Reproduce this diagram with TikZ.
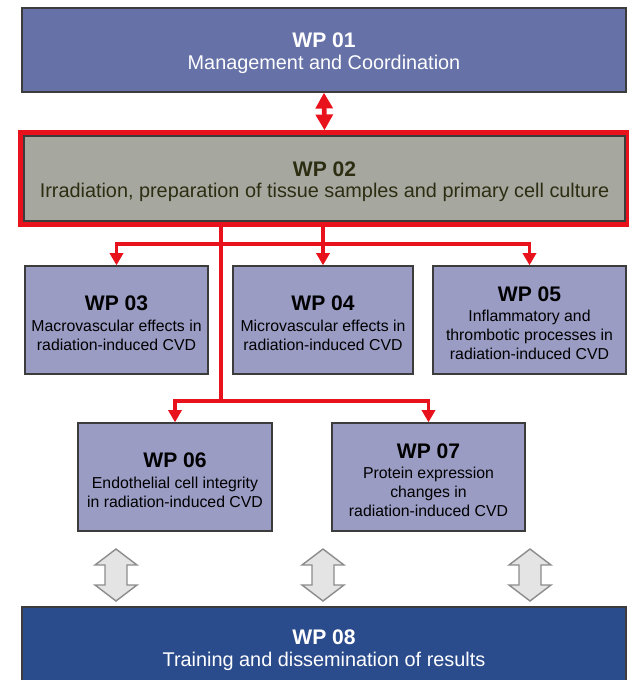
\documentclass[tikz,border=0pt]{standalone}
\usepackage{fontspec}
\setmainfont{Liberation Sans}
\usepackage{tikz}
\usetikzlibrary{arrows.meta}

\definecolor{wpslate}{HTML}{6571A7}
\definecolor{wpgrey}{HTML}{A6A8A0}
\definecolor{wpolive}{HTML}{2D2D12}
\definecolor{wplilac}{HTML}{9A9CC4}
\definecolor{wpnavy}{HTML}{2B4C8C}
\definecolor{wpred}{HTML}{E8121C}
\definecolor{wpedge}{HTML}{3C3C3C}
\definecolor{wpfog}{HTML}{E4E4E4}
\definecolor{wpsmoke}{HTML}{8C8C8C}

\newcommand{\wphead}[1]{{\fontsize{12}{14}\selectfont\bfseries\rule{0pt}{12pt}#1}}

\begin{document}
\begin{tikzpicture}[x=0.02cm,y=-0.02cm,
    wpbox/.style={draw=wpedge,line width=0.8pt,align=center,inner sep=0pt},
    wpwide/.style={wpbox,minimum width=12.08cm,minimum height=1.68cm,
        font=\fontsize{11.3}{12.5}\selectfont},
    wpsmall/.style={wpbox,fill=wplilac,minimum height=2.16cm,
        font=\fontsize{9}{10.8}\selectfont},
    redline/.style={wpred,line width=2pt},
    redarrow/.style={redline,-{Triangle[width=7.5pt,length=7pt]}},
    greyarrow/.style={fill=wpfog,draw=wpsmoke,line width=0.8pt,line join=miter}]

\useasboundingbox (0,0) rectangle (629,680);

% top row
\node[wpwide,fill=wpslate,text=white] (wp01) at (324,50)
    {\wphead{WP 01}\\Management and Coordination};

\node[wpwide,fill=wpgrey,text=wpolive,minimum width=12.02cm,minimum height=1.70cm] (wp02) at (324.5,178.5)
    {\wphead{WP 02}\\Irradiation, preparation of tissue samples and primary cell culture};
\draw[wpred,line width=2.8pt] ([shift={(-2.5,-2.5)}]wp02.north west) rectangle ([shift={(2.5,2.5)}]wp02.south east);

% middle rows
\node[wpsmall,minimum width=3.66cm] (wp03) at (116.5,320)
    {\wphead{WP 03}\\[1pt]Macrovascular effects in\\radiation-induced CVD};
\node[wpsmall,minimum width=3.60cm] (wp04) at (323,320)
    {\wphead{WP 04}\\[1pt]Microvascular effects in\\radiation-induced CVD};
\node[wpsmall,minimum width=3.86cm] (wp05) at (529.5,320)
    {\wphead{WP 05}\\[1pt]Inflammatory and\\thrombotic processes in\\radiation-induced CVD};

\node[wpsmall,minimum width=3.88cm] (wp06) at (175,477)
    {\wphead{WP 06}\\[1pt]Endothelial cell integrity\\in radiation-induced CVD};
\node[wpsmall,minimum width=3.86cm] (wp07) at (428.5,477)
    {\wphead{WP 07}\\[1pt]Protein expression\\changes in\\radiation-induced CVD};

% bottom row
\node[wpwide,fill=wpnavy,text=white,minimum height=1.6cm] (wp08) at (324,647)
    {\wphead{WP 08}\\Training and dissemination of results};

% red links
\draw[wpred,line width=2.6pt,{Triangle[width=9.5pt,length=9pt]}-{Triangle[width=9.5pt,length=9pt]}]
    (wp01.south) -- ([shift={(0,-5)}]wp02.north);

\coordinate (busA) at (323,244);
\coordinate (busB) at (221,401);

\draw[redline] ([shift={(0,5)}]wp02.south -| busA) -- (busA);
\draw[redarrow] (busA) -| (wp03.north);
\draw[redarrow] (busA) -- (wp04.north);
\draw[redarrow] (busA) -| (wp05.north);

\draw[redline] ([shift={(0,5)}]wp02.south -| busB) -- (busB);
\draw[redarrow] (busB) -| (wp06.north);
\draw[redarrow] (busB) -| (wp07.north);

% grey exchange arrows
\foreach \x in {116,323,530}
    \draw[greyarrow] (\x,549) -- ++(21,16) -- ++(-10,0) -- ++(0,20) -- ++(10,0)
        -- ++(-21,16) -- ++(-21,-16) -- ++(10,0) -- ++(0,-20) -- ++(-10,0) -- cycle;

\end{tikzpicture}
\end{document}
